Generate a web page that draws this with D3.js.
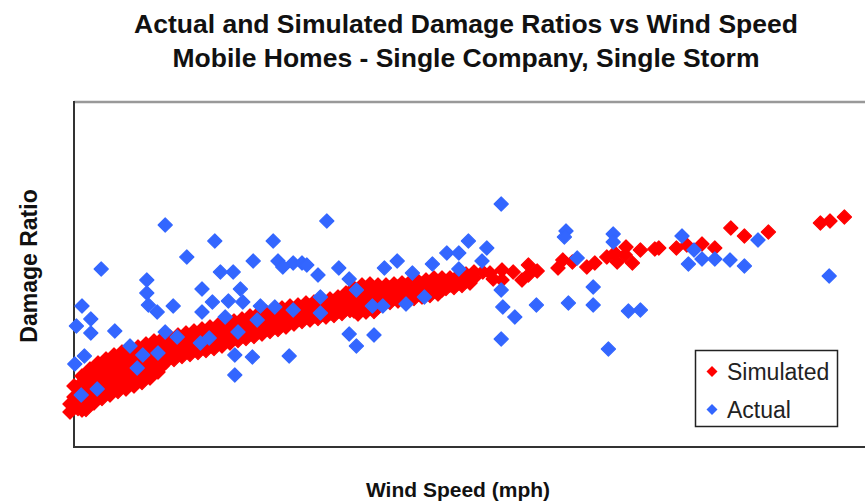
<!DOCTYPE html>
<html>
<head>
<meta charset="utf-8">
<script src="https://cdn.jsdelivr.net/npm/d3@7"></script>
<style>
  body { margin: 0; background: #fff; }
  svg { display: block; font-family: "Liberation Sans", Arial, sans-serif; }
</style>
</head>
<body>
<svg width="865" height="504"></svg>
<script>
const titleLines = ["Actual and Simulated Damage Ratios vs Wind Speed",
                    "Mobile Homes - Single Company, Single Storm"];
const xLabel = "Wind Speed (mph)";
const yLabel = "Damage Ratio";
const seriesNames = ["Simulated", "Actual"];
const seriesColors = ["#ff0000", "#3366ff"];

// simulated: dense band, read column by column [wind speed, [damage ratios]]
const simulatedBand = [
  [49.5, [.086, .070]],
  [50, [.122, .100, .078]], [50.5, [.121, .099, .077]],
  [51, [.142, .118, .094, .074]], [51.5, [.138, .115, .092, .075]],
  [52, [.156, .134, .112, .092]], [52.5, [.151, .129, .107, .088]],
  [53, [.168, .146, .124, .102]], [53.5, [.161, .139, .117, .097]],
  [54, [.176, .154, .132, .110]], [54.5, [.169, .147, .125, .104]],
  [55, [.184, .162, .140, .118]], [55.5, [.176, .154, .132, .111]],
  [56, [.190, .168, .146, .122]], [56.5, [.182, .160, .137, .116]],
  [57, [.196, .174, .150, .128]], [57.5, [.187, .165, .142, .122]],
  [58, [.200, .178, .156, .134]], [58.5, [.192, .170, .148, .129]],
  [59, [.206, .184, .162, .142]], [59.5, [.198, .176, .155, .138]],
  [60, [.212, .190, .170, .152]], [60.5, [.203, .182, .162, .150]],
  [61, [.216, .196, .176, .162]], [61.5, [.208, .188, .170]],
  [62, [.220, .200, .180]], [62.5, [.213, .194, .175]],
  [63, [.224, .206, .188]], [63.5, [.217, .199, .181]],
  [64, [.228, .210, .192]], [64.5, [.221, .203, .185]],
  [65, [.232, .214, .196]], [65.5, [.225, .207, .189]],
  [66, [.236, .218, .200]], [66.5, [.229, .211, .193]],
  [67, [.240, .222, .204]], [67.5, [.233, .215, .197]],
  [68, [.244, .226, .208]], [68.5, [.237, .219, .202]],
  [69, [.248, .230, .214]], [69.5, [.241, .224, .208]],
  [70, [.252, .236, .220]], [70.5, [.245, .229, .213]],
  [71, [.256, .240, .224]], [71.5, [.250, .233, .217]],
  [72, [.262, .244, .228]], [72.5, [.255, .237, .221]],
  [73, [.266, .248, .232]], [73.5, [.259, .242, .226]],
  [74, [.270, .254, .238]], [74.5, [.263, .247, .231]],
  [75, [.274, .258, .242]], [75.5, [.267, .251, .235]],
  [76, [.278, .262, .246]], [76.5, [.271, .255, .240]],
  [77, [.282, .266, .252]], [77.5, [.275, .260, .246]],
  [78, [.284, .270, .256]], [78.5, [.279, .265, .251]],
  [79, [.288, .274, .260]], [79.5, [.282, .268, .254]],
  [80, [.290, .276, .262]], [80.5, [.285, .271, .257]],
  [81, [.294, .280, .266]], [81.5, [.288, .274, .260]],
  [82, [.296, .282, .268]], [82.5, [.291, .277, .263]],
  [83, [.300, .286, .272]], [83.5, [.297, .282, .267]],
  [84, [.308, .292, .276]], [84.5, [.305, .289, .273]],
  [85, [.318, .302, .286, .272]], [85.5, [.313, .297, .281, .266]],
  [86, [.324, .308, .292, .276]], [86.5, [.317, .301, .285, .270]],
  [87, [.326, .310, .294, .278]], [87.5, [.317, .301, .285, .271]],
  [88, [.324, .308, .292, .280]], [88.5, [.316, .301, .286]],
  [89, [.324, .310, .294]], [89.5, [.318, .304, .289]],
  [90, [.326, .312, .298]], [90.5, [.320, .306, .292]],
  [91, [.328, .314, .300]], [91.5, [.322, .308, .294]],
  [92, [.330, .316, .302]], [92.5, [.324, .310, .297]],
  [93, [.332, .318, .306]], [93.5, [.326, .312, .300]],
  [94, [.334, .320, .308]], [94.5, [.329, .315, .303]],
  [95, [.338, .324, .312]], [95.5, [.331, .317, .306]],
  [96, [.338, .324, .314]], [96.5, [.331, .317]],
  [97, [.338, .324]], [97.5, [.333, .319]],
  [98, [.342, .328]], [98.5, [.337, .323]],
  [99, [.346, .332]], [99.5, [.341, .328]],
  [100, [.350, .338]]
];

// simulated: scattered points above 100 mph [wind speed, damage ratio]
const simulatedTail = [
  [101.1, .350], [102, .348], [102.4, .336], [103.5, .354], [103.5, .334],
  [104.9, .350], [106, .334], [106.8, .364], [106.8, .344], [107.9, .352],
  [110.5, .358], [111.1, .374], [112.3, .370], [114.1, .360], [115.1, .368],
  [116.6, .380], [117.6, .388], [117.9, .370], [119, .400], [119.8, .368],
  [118.9, .384], [120.8, .394], [122.6, .396], [123.1, .398], [125.3, .398],
  [126.6, .404], [128.5, .406], [130.1, .398], [132.1, .438], [133.8, .422],
  [136.8, .430], [143.3, .448], [144.5, .452], [146.3, .460]
];

// actual: [wind speed, damage ratio]
const actual = [
  [53.4, .356], [61.4, .444], [67.6, .412], [64.1, .380], [59.1, .334],
  [59.1, .308], [59.3, .284], [60.4, .270], [68.3, .350], [69.9, .350],
  [72.4, .372], [74.9, .412], [81.6, .452], [75.5, .372], [76.1, .360],
  [77.4, .368], [78.5, .368], [79.1, .364], [80.5, .344], [83.1, .358],
  [84.4, .336], [85.3, .314], [66.0, .316], [70.8, .316], [67.3, .290],
  [69.3, .292], [71.1, .290], [62.4, .282], [66.0, .270], [51.0, .282],
  [52.1, .256], [50.3, .242], [52.1, .228], [55.1, .232], [68.9, .260],
  [72.9, .254], [73.3, .282], [75.1, .280], [77.4, .274], [80.8, .300],
  [80.8, .268], [61.4, .230], [62.9, .220], [70.5, .230], [65.8, .208],
  [66.9, .218], [57.0, .202], [58.6, .184], [60.5, .188], [57.9, .158],
  [70.1, .184], [72.3, .180], [70.1, .144], [76.9, .182], [50.1, .166],
  [51.3, .182], [50.9, .104], [52.9, .116], [84.4, .226], [85.3, .202],
  [87.5, .224], [87.3, .282], [88.6, .282], [88.8, .358], [90.4, .372],
  [92.3, .348], [94.8, .366], [96.6, .388], [91.5, .286], [93.8, .300],
  [98.1, .388], [99.3, .412], [101.6, .398], [101.0, .372], [98.1, .356],
  [103.4, .486], [103.4, .314], [103.6, .280], [105.1, .260], [103.4, .216],
  [107.8, .284], [111.5, .432], [111.3, .420], [111.8, .288], [112.9, .378],
  [114.9, .320], [114.9, .284], [117.4, .426], [117.4, .410], [119.3, .272],
  [120.8, .274], [116.8, .196], [126.0, .422], [126.8, .366], [127.5, .394],
  [128.5, .376], [130.1, .376], [132.0, .374], [133.8, .362], [135.5, .414],
  [144.4, .342]
];

let svg, x, y, plot;
const frame = {left: 74, top: 102, right: 874, bottom: 447};

function init() {
    svg = d3.select("svg");

    x = d3.scaleLinear().domain([50, 150]).range([frame.left, frame.right]);
    y = d3.scaleLinear().domain([0, 0.69]).range([frame.bottom, frame.top]);

    // titles
    svg.selectAll(".title")
        .data(titleLines)
        .enter().append("text")
        .attr("class", "title")
        .attr("x", 466)
        .attr("y", (d, i) => 33 + i * 34)
        .attr("text-anchor", "middle")
        .attr("font-size", 26.5)
        .attr("font-weight", "bold")
        .attr("fill", "#111")
        .text(d => d);

    // plot frame
    svg.append("line")
        .attr("x1", frame.left).attr("x2", 900)
        .attr("y1", frame.top).attr("y2", frame.top)
        .attr("stroke", "#999").attr("stroke-width", 2.5);
    svg.append("line")
        .attr("x1", frame.left).attr("x2", frame.left)
        .attr("y1", frame.top - 1).attr("y2", frame.bottom + 1)
        .attr("stroke", "#333").attr("stroke-width", 2);
    svg.append("line")
        .attr("x1", frame.left - 1).attr("x2", 900)
        .attr("y1", frame.bottom).attr("y2", frame.bottom)
        .attr("stroke", "#333").attr("stroke-width", 2);

    const simulated = [];
    simulatedBand.forEach(c => c[1].forEach(r => simulated.push([c[0], r])));
    simulatedTail.forEach(p => simulated.push(p));

    const diamond = d3.symbol().type(d3.symbolSquare).size(100);
    plot = svg.append("g");

    plot.selectAll(".sim")
        .data(simulated)
        .enter().append("path")
        .attr("class", "sim")
        .attr("d", diamond)
        .attr("transform", d => `translate(${x(d[0])},${y(d[1])}) rotate(45)`)
        .attr("fill", seriesColors[0])
        .attr("stroke", seriesColors[0])
        .attr("stroke-width", 1.2)
        .attr("stroke-linejoin", "round");

    plot.selectAll(".act")
        .data(actual)
        .enter().append("path")
        .attr("class", "act")
        .attr("d", diamond)
        .attr("transform", d => `translate(${x(d[0])},${y(d[1])}) rotate(45)`)
        .attr("fill", seriesColors[1])
        .attr("stroke", seriesColors[1])
        .attr("stroke-width", 1.2)
        .attr("stroke-linejoin", "round");

    // axis titles
    svg.append("text")
        .attr("x", 458)
        .attr("y", 497)
        .attr("text-anchor", "middle")
        .attr("font-size", 21)
        .attr("font-weight", "bold")
        .attr("fill", "#111")
        .text(xLabel);

    svg.append("text")
        .attr("transform", "translate(37,266) rotate(-90)")
        .attr("text-anchor", "middle")
        .attr("font-size", 23)
        .attr("font-weight", "bold")
        .attr("fill", "#111")
        .text(yLabel);

    // legend
    const legend = svg.append("g").attr("transform", "translate(695.5,350.5)");
    legend.append("rect")
        .attr("width", 142)
        .attr("height", 76)
        .attr("fill", "#fff")
        .attr("stroke", "#222")
        .attr("stroke-width", 1.5);

    const item = legend.selectAll(".item")
        .data(seriesNames)
        .enter().append("g")
        .attr("class", "item")
        .attr("transform", (d, i) => `translate(0,${21 + i * 38})`);
    item.append("path")
        .attr("d", d3.symbol().type(d3.symbolSquare).size(60))
        .attr("transform", "translate(16.5,0) rotate(45)")
        .attr("fill", (d, i) => seriesColors[i]);
    item.append("text")
        .attr("x", 31.5)
        .attr("y", 8)
        .attr("font-size", 23)
        .attr("fill", "#222")
        .text(d => d);
}

document.addEventListener("DOMContentLoaded", init);
</script>
</body>
</html>
